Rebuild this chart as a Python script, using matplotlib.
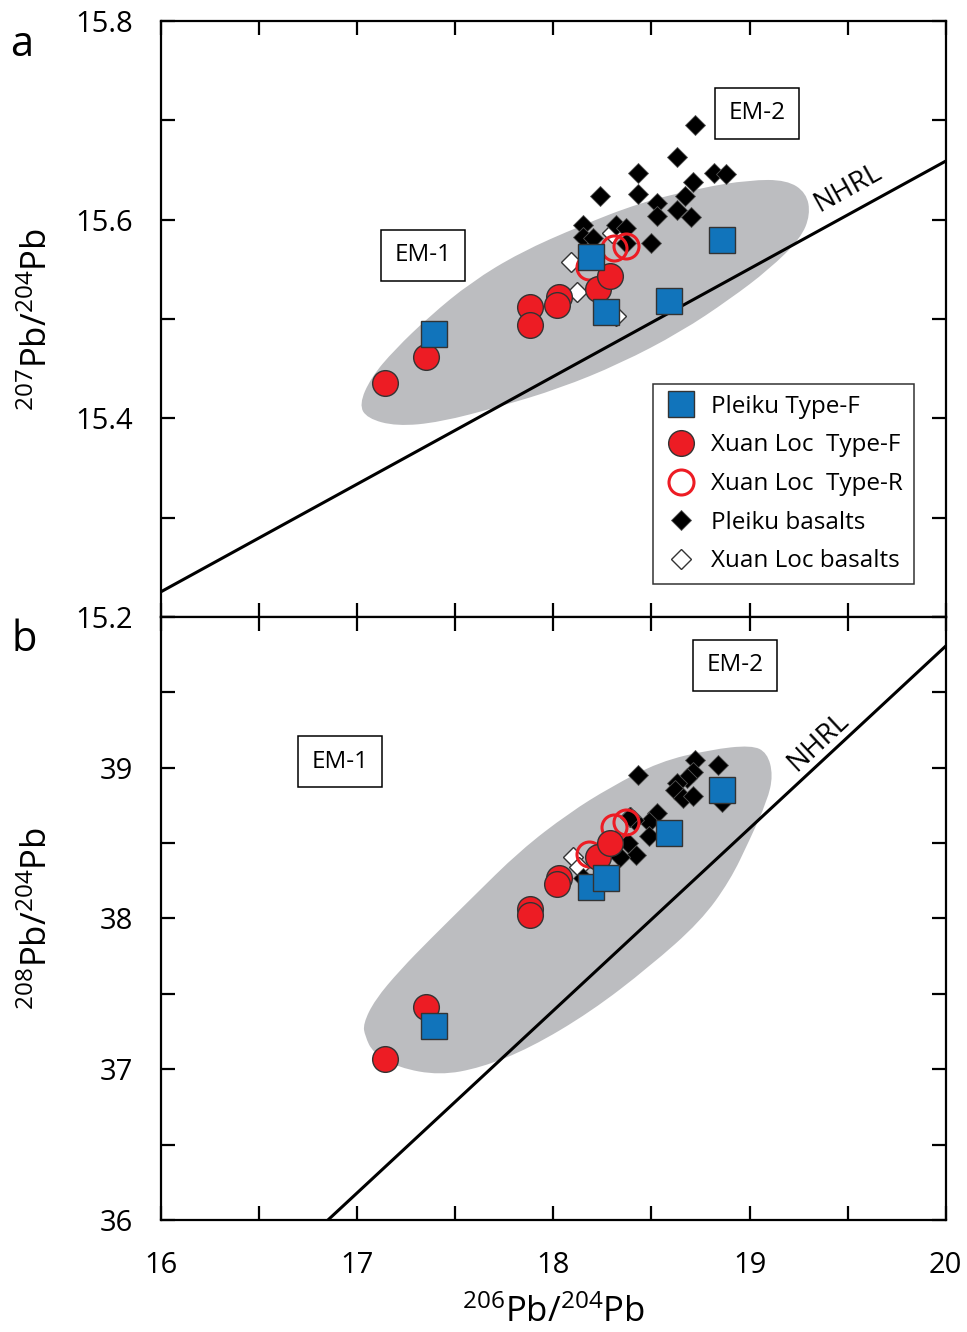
import numpy as np
import matplotlib
matplotlib.use('Agg')
import matplotlib.pyplot as plt
from matplotlib.path import Path
from matplotlib.patches import PathPatch
from matplotlib.ticker import MultipleLocator

plt.rcParams['font.family'] = ['Open Sans', 'DejaVu Sans']
plt.rcParams['mathtext.default'] = 'regular'

# --- Pb isotope data (206Pb/204Pb, 207Pb/204Pb, 208Pb/204Pb) ---
# Pleiku Type-F
pleiku_f_206 = [17.39, 18.19, 18.27, 18.59, 18.86]
pleiku_f_207 = [15.485, 15.562, 15.507, 15.518, 15.580]
pleiku_f_208 = [37.29, 38.21, 38.27, 38.57, 38.85]

# Xuan Loc Type-F
xuanloc_f_206 = [17.14, 17.35, 17.88, 17.88, 18.03, 18.02, 18.23, 18.29]
xuanloc_f_207 = [15.436, 15.462, 15.512, 15.494, 15.522, 15.514, 15.530, 15.543]
xuanloc_f_208 = [37.07, 37.41, 38.06, 38.02, 38.27, 38.23, 38.41, 38.50]

# Xuan Loc Type-R
xuanloc_r_206 = [18.18, 18.31, 18.37]
xuanloc_r_207 = [15.552, 15.572, 15.574]
xuanloc_r_208 = [38.43, 38.61, 38.64]

# Pleiku basalts (two panels read separately)
pleiku_b_206a = [18.72, 18.63, 18.43, 18.82, 18.88, 18.24, 18.43, 18.71, 18.67, 18.53,
                 18.53, 18.63, 18.70, 18.50, 18.15, 18.15, 18.20, 18.32, 18.37, 18.37]
pleiku_b_207a = [15.695, 15.663, 15.647, 15.647, 15.646, 15.624, 15.626, 15.638, 15.624, 15.617,
                 15.604, 15.610, 15.603, 15.577, 15.595, 15.583, 15.582, 15.595, 15.592, 15.577]
pleiku_b_206b = [18.43, 18.72, 18.84, 18.71, 18.68, 18.63, 18.62, 18.66, 18.71, 18.86,
                 18.53, 18.49, 18.49, 18.41, 18.42, 18.38, 18.34, 18.15, 18.39]
pleiku_b_208b = [38.95, 39.05, 39.02, 38.97, 38.93, 38.90, 38.85, 38.80, 38.81, 38.77,
                 38.70, 38.64, 38.55, 38.65, 38.42, 38.50, 38.41, 38.27, 38.67]

# Xuan Loc basalts
xuanloc_b_206a = [18.09, 18.12, 18.32, 18.30]
xuanloc_b_207a = [15.557, 15.527, 15.503, 15.587]
xuanloc_b_206b = [18.10, 18.13, 18.39]
xuanloc_b_208b = [38.41, 38.34, 38.67]

# Grey field outlines
field_a_x = [17.01, 17.07, 17.19, 17.37, 17.58, 17.83, 18.14, 18.44, 18.75, 19.00, 19.19,
             19.29, 19.31, 19.26, 19.10, 18.90, 18.65, 18.34, 18.03, 17.73, 17.42, 17.20, 17.05]
field_a_y = [15.414, 15.441, 15.469, 15.503, 15.537, 15.567, 15.594, 15.617, 15.632, 15.640, 15.640,
             15.627, 15.605, 15.581, 15.550, 15.520, 15.487, 15.455, 15.430, 15.412, 15.396, 15.392, 15.400]
field_b_x = [17.03, 17.09, 17.22, 17.37, 17.58, 17.83, 18.08, 18.29, 18.54, 18.80, 19.01, 19.09,
             19.12, 19.09, 19.00, 18.90, 18.75, 18.49, 18.19, 17.88, 17.63, 17.42, 17.21, 17.08, 17.04]
field_b_y = [37.30, 37.46, 37.66, 37.86, 38.13, 38.45, 38.70, 38.87, 39.04, 39.12, 39.15, 39.10,
             38.95, 38.78, 38.52, 38.25, 37.98, 37.68, 37.38, 37.14, 37.01, 36.96, 37.01, 37.11, 37.22]

# Northern Hemisphere Reference Line (Hart 1984)
nhrl_x = np.array([16.0, 20.0])
nhrl_207 = 0.1084 * nhrl_x + 13.491
nhrl_208 = 1.209 * nhrl_x + 15.627

BLUE = '#1174BB'
RED = '#ED1C24'
GREY = '#BCBDC0'
EDGE = '#333333'


def field_patch(xs, ys):
    # closed quadratic B-spline through the outline points
    pts = np.column_stack([xs, ys])
    mids = (pts + np.roll(pts, -1, axis=0)) / 2
    verts = [mids[-1]]
    codes = [Path.MOVETO]
    for p, m in zip(pts, mids):
        verts += [p, m]
        codes += [Path.CURVE3, Path.CURVE3]
    verts.append(mids[-1])
    codes.append(Path.CLOSEPOLY)
    return PathPatch(Path(verts, codes), facecolor=GREY, edgecolor='none', zorder=0)


def em_box(ax, x, y, text):
    ax.text(x, y, text, fontsize=17.5, ha='center', va='center', zorder=6,
            bbox=dict(boxstyle='square,pad=0.55', facecolor='white', edgecolor='black', linewidth=1.1))


def style_axes(ax):
    for s in ax.spines.values():
        s.set_linewidth(1.6)
    ax.tick_params(which='both', direction='in', top=True, right=True,
                   length=10, width=1.6, labelsize=21)
    ax.tick_params(axis='y', pad=20)
    ax.tick_params(axis='x', pad=22)
    ax.xaxis.set_major_locator(MultipleLocator(1))
    ax.xaxis.set_minor_locator(MultipleLocator(0.5))
    ax.set_xlim(16, 20)


def plot_points(ax, x_pf, y_pf, x_xf, y_xf, x_xr, y_xr, x_pb, y_pb, x_xb, y_xb, with_labels=False):
    ax.plot(x_xb, y_xb, 'D', ms=10, mfc='white', mec=EDGE, mew=1.0, ls='none', zorder=3,
            label='Xuan Loc basalts' if with_labels else None)
    ax.plot(x_pb, y_pb, 'D', ms=10, mfc='black', mec='#555555', mew=0.6, ls='none', zorder=3,
            label='Pleiku basalts' if with_labels else None)
    ax.plot(x_xr, y_xr, 'o', ms=18, mfc='none', mec=RED, mew=2.2, ls='none', zorder=4,
            label='Xuan Loc  Type-R' if with_labels else None)
    ax.plot(x_xf, y_xf, 'o', ms=18.5, mfc=RED, mec=EDGE, mew=1.0, ls='none', zorder=4,
            label='Xuan Loc  Type-F' if with_labels else None)
    ax.plot(x_pf, y_pf, 's', ms=19, mfc=BLUE, mec=EDGE, mew=1.0, ls='none', zorder=5,
            label='Pleiku Type-F' if with_labels else None)


fig = plt.figure(figsize=(9.67, 13.32), dpi=100)
ax_a = fig.add_axes([0.1665, 0.5368, 0.8115, 0.4474])
ax_b = fig.add_axes([0.1665, 0.0841, 0.8115, 0.4527])

# panel a: 207Pb/204Pb
style_axes(ax_a)
ax_a.set_ylim(15.2, 15.8)
ax_a.yaxis.set_major_locator(MultipleLocator(0.2))
ax_a.yaxis.set_minor_locator(MultipleLocator(0.1))
ax_a.tick_params(axis='x', labelbottom=False)
ax_a.add_patch(field_patch(field_a_x, field_a_y))
ax_a.plot(nhrl_x, nhrl_207, color='black', lw=2.2, zorder=2)
plot_points(ax_a, pleiku_f_206, pleiku_f_207, xuanloc_f_206, xuanloc_f_207,
            xuanloc_r_206, xuanloc_r_207, pleiku_b_206a, pleiku_b_207a,
            xuanloc_b_206a, xuanloc_b_207a, with_labels=True)
em_box(ax_a, 17.335, 15.564, 'EM-1')
em_box(ax_a, 19.037, 15.707, 'EM-2')
ax_a.text(19.50, 15.632, 'NHRL', fontsize=20, rotation=29, ha='center', va='center')
ax_a.set_ylabel(r'$^{207}$Pb/$^{204}$Pb', fontsize=25)
ax_a.yaxis.set_label_coords(-0.135, 0.5)

handles, labels = ax_a.get_legend_handles_labels()
order = [4, 3, 2, 1, 0]
leg = ax_a.legend([handles[i] for i in order], [labels[i] for i in order],
                  loc='upper left', bbox_to_anchor=(0.627, 0.391), borderaxespad=0,
                  fontsize=17.5, frameon=True, fancybox=False, edgecolor='black',
                  borderpad=0.45, handlelength=1.4, handletextpad=0.55, labelspacing=0.6,
                  numpoints=1)
leg.get_frame().set_linewidth(1.1)
leg.set_zorder(7)

# panel b: 208Pb/204Pb
style_axes(ax_b)
ax_b.set_ylim(36, 40)
ax_b.set_yticks([36, 37, 38, 39])
ax_b.yaxis.set_minor_locator(MultipleLocator(0.5))
ax_b.add_patch(field_patch(field_b_x, field_b_y))
ax_b.plot(nhrl_x, nhrl_208, color='black', lw=2.2, zorder=2)
plot_points(ax_b, pleiku_f_206, pleiku_f_208, xuanloc_f_206, xuanloc_f_208,
            xuanloc_r_206, xuanloc_r_208, pleiku_b_206b, pleiku_b_208b,
            xuanloc_b_206b, xuanloc_b_208b)
em_box(ax_b, 16.912, 39.04, 'EM-1')
em_box(ax_b, 18.925, 39.68, 'EM-2')
ax_b.text(19.35, 39.17, 'NHRL', fontsize=20, rotation=43, ha='center', va='center')
ax_b.set_ylabel(r'$^{208}$Pb/$^{204}$Pb', fontsize=25)
ax_b.yaxis.set_label_coords(-0.135, 0.5)
ax_b.set_xlabel(r'$^{206}$Pb/$^{204}$Pb', fontsize=25)
ax_b.xaxis.set_label_coords(0.5, -0.125)

fig.text(22 / 967, 1 - 45 / 1332, 'a', fontsize=30, ha='center', va='center')
fig.text(24 / 967, 1 - 640 / 1332, 'b', fontsize=30, ha='center', va='center')

fig.savefig('out.png', dpi=100)
